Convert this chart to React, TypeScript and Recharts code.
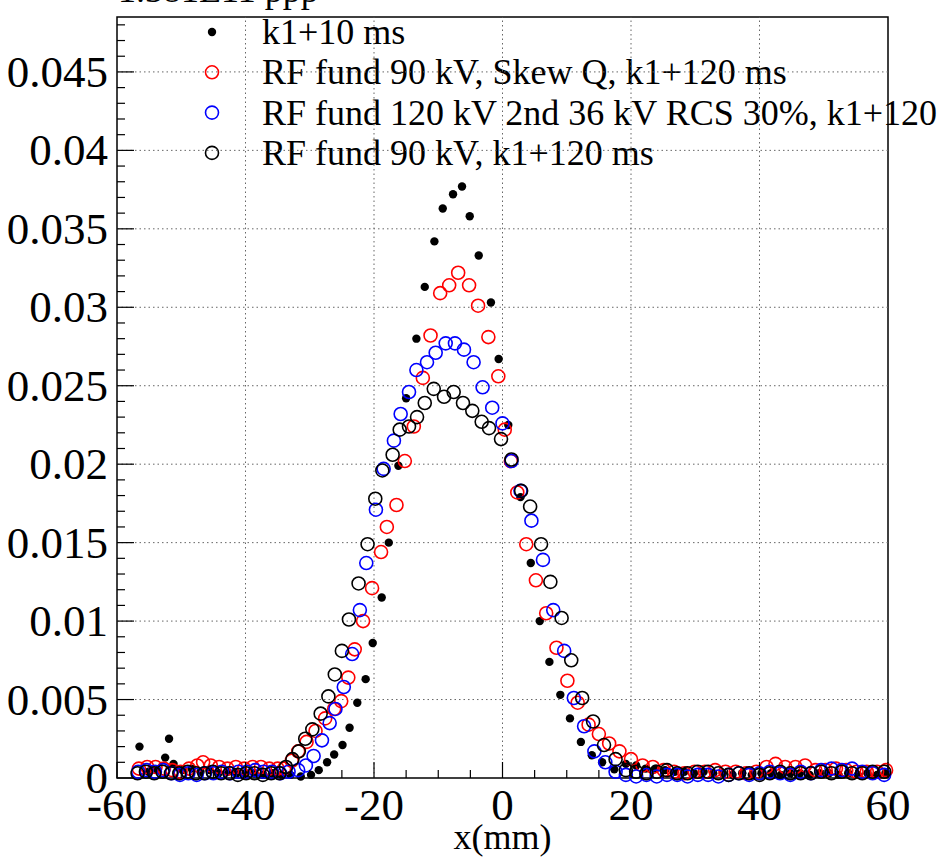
import { ScatterChart, Scatter, XAxis, YAxis, ReferenceLine, ReferenceArea, Customized } from 'recharts';

type P = [number, number];

// k1+10 ms (filled dots)
const k1Dots: P[] = [
  [-56.5, 0.002], [-55.1, 0.0004], [-53.7, 0.0005], [-52.5, 0.0013], [-51.9, 0.0025], [-51.2, 0.0009],
  [-49.8, 0.0005], [-48.4, 0.0006], [-47.0, 0.0004], [-45.6, 0.0005], [-44.2, 0.0003], [-42.8, 0.0004],
  [-41.4, 0.0003], [-40.0, 0.0003], [-38.6, 0.0003], [-37.2, 0.0002], [-35.8, 0.0003], [-34.4, 0.0002],
  [-33.0, 0.0002], [-31.4, 0.0001], [-29.8, 0.0002], [-28.6, 0.0005], [-27.3, 0.001], [-26.2, 0.0015],
  [-24.9, 0.0021], [-23.8, 0.0032], [-22.6, 0.0048], [-21.3, 0.0063], [-20.2, 0.0086], [-18.8, 0.0115],
  [-17.7, 0.015], [-16.2, 0.0199], [-15.0, 0.0242], [-13.4, 0.028], [-12.1, 0.0313], [-10.6, 0.0342],
  [-9.3, 0.0363], [-7.7, 0.0372], [-6.3, 0.0377], [-5.1, 0.0358], [-3.7, 0.0333], [-1.8, 0.0303],
  [-0.6, 0.0267], [0.9, 0.0225], [2.8, 0.0179], [4.4, 0.0137], [5.8, 0.01], [7.3, 0.0074], [9.0, 0.0053],
  [10.5, 0.0038], [12.2, 0.0023], [13.9, 0.00145], [15.5, 0.001], [17.4, 0.00055], [19.2, 0.0009],
  [20.8, 0.0008], [22.3, 0.0006], [23.8, 0.0006], [25.3, 0.0005], [26.8, 0.0004], [28.3, 0.0004],
  [29.8, 0.0003], [31.3, 0.0004], [32.8, 0.0003], [34.3, 0.0003], [35.8, 0.0002], [37.3, 0.0003],
  [38.8, 0.0002], [40.3, 0.0003], [41.8, 0.0003], [43.3, 0.0002], [44.8, 0.0003], [46.3, 0.0003],
  [47.8, 0.0002], [49.3, 0.0003], [50.8, 0.0003], [52.3, 0.0002], [53.8, 0.0003], [55.3, 0.0002],
  [56.8, 0.0003], [58.3, 0.0002], [59.6, 0.0003],
];

// RF fund 90 kV, Skew Q, k1+120 ms (red)
const skewQ: P[] = [
  [-56.6, 0.0006], [-55.3, 0.0007], [-54.0, 0.0007], [-52.7, 0.0006], [-51.4, 0.0005], [-50.1, 0.0004],
  [-48.8, 0.0006], [-47.5, 0.0008], [-46.6, 0.001], [-45.4, 0.0008], [-44.1, 0.0007], [-42.8, 0.0006],
  [-41.5, 0.0007], [-40.2, 0.0006], [-38.9, 0.0007], [-37.6, 0.0007], [-36.3, 0.0006], [-35.0, 0.0006],
  [-34.0, 0.0006], [-32.8, 0.0011], [-31.8, 0.0017], [-30.5, 0.0023], [-29.1, 0.003], [-27.6, 0.0038],
  [-26.2, 0.0044], [-25.1, 0.0049], [-24.0, 0.0064], [-23.0, 0.0082], [-21.7, 0.01], [-20.3, 0.0121],
  [-18.9, 0.0144], [-18.0, 0.016], [-16.5, 0.0174], [-15.2, 0.0202], [-13.8, 0.0224], [-12.4, 0.0255],
  [-11.2, 0.0282], [-9.7, 0.0309], [-8.3, 0.0314], [-6.9, 0.0322], [-5.2, 0.0314], [-3.8, 0.0301],
  [-2.2, 0.0281], [-0.65, 0.0256], [0.35, 0.0222], [1.3, 0.0202], [2.3, 0.0182], [3.7, 0.0149],
  [5.2, 0.0126], [6.8, 0.0105], [8.4, 0.0083], [10.1, 0.0062], [11.7, 0.0048], [13.4, 0.0034],
  [15.0, 0.0028], [16.6, 0.0022], [18.2, 0.0017], [20.0, 0.0012], [21.8, 0.0008], [23.4, 0.0007],
  [25.1, 0.0005], [26.7, 0.0004], [28.3, 0.0003], [29.9, 0.0004], [31.5, 0.0004], [33.1, 0.0005],
  [34.7, 0.0004], [36.3, 0.0004], [37.9, 0.0003], [39.5, 0.0004], [41.1, 0.0007], [42.5, 0.0009],
  [44.0, 0.0007], [45.6, 0.0007], [47.1, 0.0008], [48.7, 0.0005], [50.3, 0.0005], [51.9, 0.0006],
  [53.5, 0.0005], [55.1, 0.0004], [56.7, 0.0004], [58.3, 0.0004], [59.7, 0.0005],
];

// RF fund 120 kV 2nd 36 kV RCS 30%, k1+120 (blue)
const rcs30: P[] = [
  [-56.7, 0.0004], [-55.4, 0.0005], [-54.1, 0.0004], [-52.8, 0.0005], [-51.5, 0.0003], [-50.2, 0.0002],
  [-48.9, 0.0003], [-47.6, 0.0002], [-46.3, 0.0003], [-45.0, 0.0003], [-43.7, 0.0004], [-42.4, 0.0003],
  [-41.1, 0.0004], [-39.8, 0.0004], [-38.5, 0.0005], [-37.2, 0.0004], [-35.9, 0.0004], [-34.6, 0.0003],
  [-33.3, 0.0004], [-31.8, 0.0005], [-30.6, 0.0008], [-29.4, 0.0014], [-28.1, 0.0024], [-26.9, 0.0035],
  [-26.0, 0.0044], [-24.7, 0.0058], [-23.4, 0.0079], [-22.2, 0.0107], [-21.2, 0.0137], [-19.7, 0.0171],
  [-18.5, 0.0197], [-16.9, 0.0215], [-15.85, 0.0232], [-14.55, 0.0246], [-13.4, 0.026], [-11.75, 0.0265],
  [-10.4, 0.0271], [-8.84, 0.0277], [-7.4, 0.0277], [-6.0, 0.0273], [-4.5, 0.0265], [-3.1, 0.0249],
  [-1.6, 0.0236], [0.0, 0.0226], [1.4, 0.0202], [2.8, 0.0183], [4.5, 0.0164], [6.3, 0.0139],
  [7.9, 0.0107], [9.6, 0.0081], [11.1, 0.0051], [12.7, 0.0033], [14.3, 0.0017], [16.0, 0.001],
  [17.6, 0.0004], [19.2, 0.0002], [20.8, 0.0001], [22.4, 0.0002], [24.0, 0.0001], [25.6, 0.0002],
  [27.2, 0.0002], [28.8, 0.0001], [30.4, 0.0002], [32.0, 0.0002], [33.6, 0.0001], [35.2, 0.0002],
  [36.8, 0.0003], [38.4, 0.0002], [40.0, 0.0003], [41.6, 0.0004], [43.2, 0.0003], [44.8, 0.0002],
  [46.4, 0.0004], [48.0, 0.0003], [49.6, 0.0005], [51.2, 0.0006], [52.8, 0.0005], [54.4, 0.0006],
  [56.0, 0.0004], [57.6, 0.0003], [59.4, 0.0002],
];

// RF fund 90 kV, k1+120 ms (black open)
const fund90: P[] = [
  [-56.8, 0.0003], [-55.5, 0.0004], [-54.2, 0.0003], [-52.9, 0.0004], [-51.6, 0.0003], [-50.3, 0.0003],
  [-49.0, 0.0004], [-47.7, 0.0003], [-46.4, 0.0003], [-45.1, 0.0004], [-43.8, 0.0003], [-42.5, 0.0003],
  [-41.2, 0.0002], [-39.9, 0.0003], [-38.6, 0.0003], [-37.3, 0.0002], [-36.0, 0.0003], [-34.7, 0.0003],
  [-33.7, 0.0007], [-32.7, 0.0012], [-31.7, 0.0017], [-30.7, 0.0025], [-29.6, 0.0031], [-28.3, 0.0041],
  [-27.1, 0.0052], [-26.1, 0.0066], [-25.0, 0.0081], [-23.9, 0.0101], [-22.4, 0.0124], [-21.0, 0.0149],
  [-19.8, 0.0178], [-18.7, 0.0196], [-17.1, 0.0206], [-16.0, 0.0222], [-14.55, 0.0224], [-13.3, 0.023],
  [-12.1, 0.0239], [-10.7, 0.0248], [-9.1, 0.0243], [-7.6, 0.0246], [-6.15, 0.0239], [-4.7, 0.0234],
  [-3.24, 0.0227], [-2.1, 0.0223], [-0.23, 0.0216], [1.4, 0.0203], [2.9, 0.0183], [4.3, 0.0173],
  [6.0, 0.0149], [7.45, 0.0125], [9.2, 0.0102], [10.7, 0.0075], [12.4, 0.0051], [14.1, 0.0036],
  [15.8, 0.0021], [17.6, 0.0012], [19.2, 0.0005], [20.8, 0.0004], [22.4, 0.0003], [24.0, 0.0004],
  [25.6, 0.0005], [27.2, 0.0003], [28.8, 0.0003], [30.4, 0.0004], [32.0, 0.0004], [33.6, 0.0003],
  [35.2, 0.0002], [36.8, 0.0003], [38.4, 0.0003], [40.0, 0.0002], [41.6, 0.0003], [43.2, 0.0004],
  [44.8, 0.0003], [46.4, 0.0003], [48.0, 0.0003], [49.6, 0.0004], [51.2, 0.0003], [52.8, 0.0004],
  [54.4, 0.0003], [56.0, 0.0003], [57.6, 0.0004], [59.4, 0.0004],
];

const seriesNames = [
  'k1+10 ms',
  'RF fund 90 kV, Skew Q, k1+120 ms',
  'RF fund 120 kV 2nd 36 kV RCS 30%, k1+120',
  'RF fund 90 kV, k1+120 ms',
];
const seriesColors = ['#000000', '#ff0000', '#0000ff', '#000000'];
const seriesData = [k1Dots, skewQ, rcs30, fund90];

const xTicks = [-60, -55, -50, -45, -40, -35, -30, -25, -20, -15, -10, -5, 0, 5, 10, 15, 20, 25, 30, 35, 40, 45, 50, 55, 60];
const xMajor = [-60, -40, -20, 0, 20, 40, 60];
const xGrid = [-40, -20, 0, 20, 40];
const yTicks = Array.from({ length: 49 }, (_, i) => i / 1000);
const yMajorLabels = ['0', '0.005', '0.01', '0.015', '0.02', '0.025', '0.03', '0.035', '0.04', '0.045'];
const yGrid = [0.005, 0.01, 0.015, 0.02, 0.025, 0.03, 0.035, 0.04, 0.045];
const unitText = '1.381E11 ppp';

const FONT = '"Liberation Serif", "Times New Roman", serif';
const Y_MAX = 0.0485;

const XTick = (props: any) => {
  const { x, y, payload } = props;
  const v = payload.value;
  const major = xMajor.includes(v);
  return (
    <g>
      <line x1={x} x2={x} y1={y} y2={y - (major ? 16 : 8)} stroke="#000" strokeWidth={1.2} />
      {major && (
        <text x={x} y={y + 42} textAnchor="middle" fontFamily={FONT} fontSize={45} fill="#000">
          {String(v)}
        </text>
      )}
    </g>
  );
};

const YTick = (props: any) => {
  const { x, y, payload } = props;
  const k = Math.round(payload.value * 1000);
  const major = k % 5 === 0;
  return (
    <g>
      <line x1={x} x2={x + (major ? 17 : 8)} y1={y} y2={y} stroke="#000" strokeWidth={1.2} />
      {major && (
        <text x={x - 9} y={y + 15} textAnchor="end" fontFamily={FONT} fontSize={45} fill="#000">
          {yMajorLabels[k / 5]}
        </text>
      )}
    </g>
  );
};

const marker = (i: number, cx: number, cy: number) =>
  i === 0 ? (
    <circle cx={cx} cy={cy} r={4.2} fill={seriesColors[i]} />
  ) : (
    <circle cx={cx} cy={cy} r={6.5} fill="none" stroke={seriesColors[i]} strokeWidth={1.6} />
  );

const LegendBox = () => (
  <g>
    {seriesNames.map((name, i) => {
      const cy = 32 + i * 40.3;
      return (
        <g key={name}>
          {marker(i, 212, cy)}
          <text x={262} y={cy + 12} fontFamily={FONT} fontSize={36} fill="#000">
            {name}
          </text>
        </g>
      );
    })}
    <text x={118} y={2} fontFamily={FONT} fontSize={36} fill="#000">
      {unitText}
    </text>
  </g>
);

export default function App() {
  return (
    <div style={{ position: 'absolute', left: 0, top: 0, width: 946, height: 857, background: '#fff' }}>
      <ScatterChart width={946} height={857} margin={{ top: 17, right: 58, bottom: 4, left: 7 }}>
        <XAxis
          type="number"
          dataKey="x"
          domain={[-60, 60]}
          ticks={xTicks}
          interval={0}
          height={75}
          tickSize={0}
          tickMargin={0}
          axisLine={false}
          tickLine={false}
          tick={XTick}
          label={{ value: 'x(mm)', position: 'insideBottom', offset: 4, fontFamily: FONT, fontSize: 36, fill: '#000' }}
        />
        <YAxis
          type="number"
          dataKey="y"
          domain={[0, Y_MAX]}
          ticks={yTicks}
          interval={0}
          width={110}
          tickSize={0}
          tickMargin={0}
          axisLine={false}
          tickLine={false}
          tick={YTick}
        />
        {yGrid.map((v) => (
          <ReferenceLine key={'y' + v} y={v} stroke="#666" strokeDasharray="1.5 3" strokeWidth={1} />
        ))}
        {xGrid.map((v) => (
          <ReferenceLine key={'x' + v} x={v} stroke="#666" strokeDasharray="1.5 3" strokeWidth={1} />
        ))}
        {seriesData.map((d, i) => (
          <Scatter
            key={seriesNames[i]}
            name={seriesNames[i]}
            data={d.map(([x, y]) => ({ x, y }))}
            isAnimationActive={false}
            shape={(p: any) => marker(i, p.cx, p.cy)}
          />
        ))}
        <ReferenceArea x1={-60} x2={60} y1={0} y2={Y_MAX} fill="none" stroke="#000" strokeWidth={1.5} />
        <Customized component={LegendBox} />
      </ScatterChart>
    </div>
  );
}
